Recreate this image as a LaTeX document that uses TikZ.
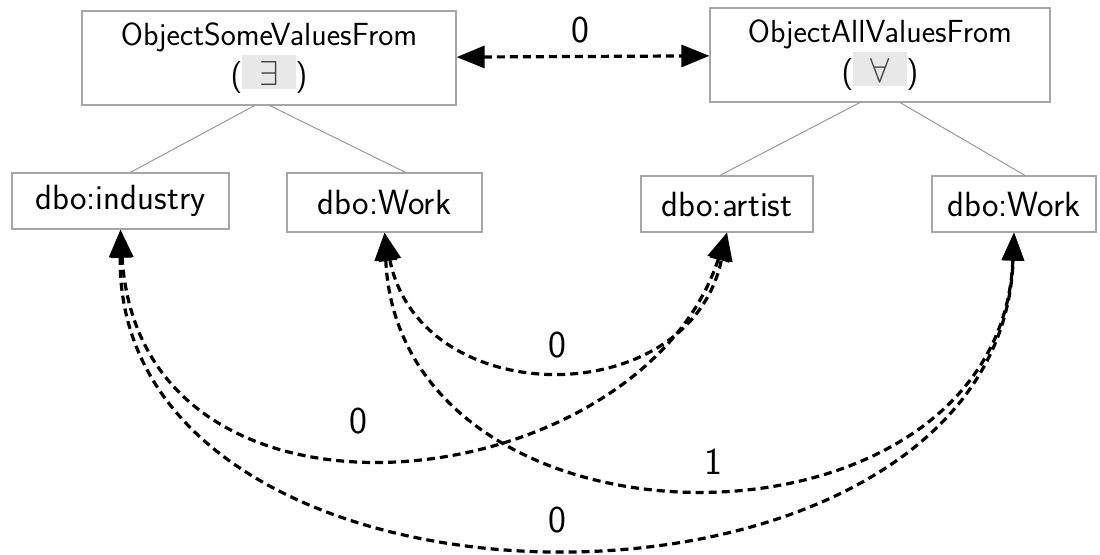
\documentclass[tikz,border=0pt]{standalone}
\usepackage{xcolor}
\usepackage{tikz}
\usetikzlibrary{arrows.meta}
\usetikzlibrary{positioning}

\newcommand{\qsym}[1]{{\setlength{\fboxsep}{0pt}\colorbox{gray!18}{\rule[-2pt]{0pt}{17pt}\hspace{8.5pt}\textcolor{black!75}{$#1$}\hspace{8.5pt}}}}

\begin{document}
\begin{tikzpicture}[x=0.5pt, y=-0.5pt,
  objbox/.style={rectangle, draw=gray!70, line width=0.6pt, align=center, inner sep=0pt,
    font=\fontsize{16}{20}\selectfont\sffamily},
  propbox/.style={rectangle, draw=gray!70, line width=0.6pt, inner sep=0pt, minimum height=28pt,
    font=\fontsize{17.5}{20}\selectfont\sffamily},
  treeline/.style={draw=gray!80, line width=0.5pt},
  link/.style={line width=1.6pt, dash pattern=on 4pt off 2.5pt,
    arrows={Triangle[length=14pt,width=11pt]-Triangle[length=14pt,width=11pt]}},
  weight/.style={font=\fontsize{19}{22}\selectfont\sffamily}]

\useasboundingbox (0,0) rectangle (1100,554);

% Nodes 
\node[objbox, minimum width=187pt, minimum height=47pt] at (269, 58) (some) {ObjectSomeValuesFrom\hspace{11pt}\\(\qsym{\exists})} ; 
\node[objbox, minimum width=170pt, minimum height=47pt] at (880, 55) (all) {ObjectAllValuesFrom\hspace{17pt}\\(\qsym{\forall})} ; 
\node[propbox, minimum width=108.5pt] at (120.5, 201) (ind) {dbo:industry} ; 
\node[propbox, minimum width=97.5pt, minimum height=29.5pt] at (384.5, 202.5) (workl) {dbo:Work} ; 
\node[propbox, minimum width=86pt] at (727, 204) (art) {dbo:artist} ; 
\node[propbox, minimum width=82pt] at (1014, 204) (workr) {dbo:Work} ; 

% Weights 
\node[weight] at (580, 30) (w1) {0} ; 
\node[weight] at (557, 345) (w2) {0} ; 
\node[weight] at (358, 421) (w3) {0} ; 
\node[weight] at (713, 462) (w4) {1} ; 
\node[weight] at (557, 520) (w5) {0} ; 

% Lines 
\draw[treeline] (some.253) -- (ind.71) ; 
\draw[treeline] (some.271) -- (workl.55) ; 
\draw[treeline] (all.247) -- (art.104) ; 
\draw[treeline] (all.293) -- (workr.69) ; 

\draw[link] (some) -- (all) ; 
\draw[link] (workl.south) .. controls (420, 413) and (690, 413) .. (art.south) ; 
\draw[link] (ind.south) .. controls (140, 560) and (640, 500) .. (art.south) ; 
\draw[link] (workl.south) .. controls (400, 570) and (1000, 570) .. (workr.south) ; 
\draw[link] (ind.south) .. controls (115, 650) and (1000, 650) .. (workr.south) ; 

\end{tikzpicture}
\end{document}
